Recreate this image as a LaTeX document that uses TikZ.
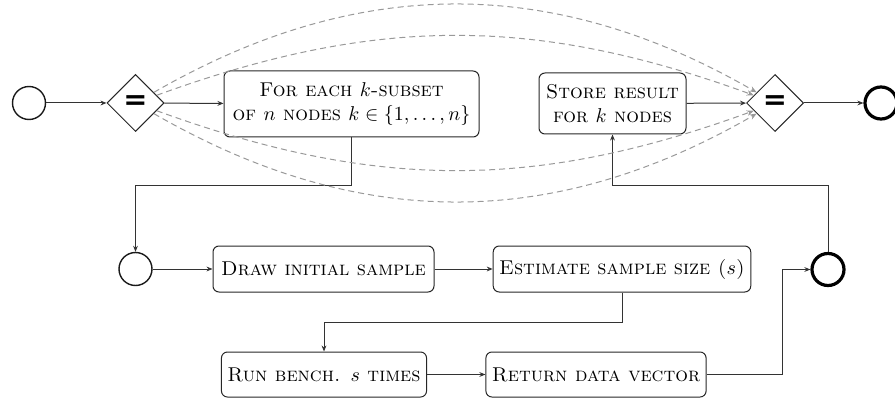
\documentclass[tikz,border=0pt]{standalone}
\usepackage{fontspec}
\newfontfamily\gatefont{DejaVu Sans}
\usetikzlibrary{shapes.geometric,arrows.meta}
\tikzset{
  px/.style={x=0.5pt,y=-0.5pt},
  task/.style={draw=black!85,line width=0.5pt,rounded corners=3pt,align=center,
    minimum height=23pt,inner xsep=3pt,font=\scshape},
  gate/.style={draw=black!85,line width=0.5pt,diamond,minimum width=28.5pt,minimum height=28.5pt,
    inner sep=0pt,font=\gatefont\bfseries\Large},
  ev/.style={draw=black!90,circle,line width=0.7pt,minimum size=16.5pt,inner sep=0pt},
  evthick/.style={draw=black,circle,line width=1.6pt,minimum size=16pt,inner sep=0pt},
  conn/.style={draw=black!80,line width=0.5pt,-{Stealth[length=3pt,width=2.4pt]}},
  par/.style={draw=black!40,line width=0.5pt,dash pattern=on 3pt off 2pt,
    -{Stealth[length=3.5pt,width=2.8pt]}},
}
\begin{document}
\begin{tikzpicture}[px]
\useasboundingbox (0,0) rectangle (895,401);
% top row
\node[ev] (s) at (29,103) {};
\node[gate] (d1) at (135.5,103) {=};
\node[task,minimum width=127.5pt,minimum height=33pt] (b1) at (351.5,104)
  {For each $k$-subset\\ of $n$ nodes $k\in\{1,\dots,n\}$};
\node[task,minimum width=73.5pt,minimum height=30.5pt] (st) at (612.5,103.5)
  {Store result\\ for $k$ nodes};
\node[gate] (d2) at (775,103) {=};
\node[evthick] (e) at (881,103) {};
% middle row
\node[ev] (c2) at (135.5,269) {};
\node[task,minimum width=110.5pt] (dr) at (323.5,269) {Draw initial sample};
\node[task,minimum width=128pt] (es) at (622,269) {Estimate sample size ($s$)};
\node[evthick] (c3) at (828,269.5) {};
% bottom row
\node[task,minimum width=102pt,minimum height=22.5pt] (rb) at (324,374.5) {Run bench. $s$ times};
\node[task,minimum width=109pt,minimum height=22.5pt] (rd) at (596,374.5) {Return data vector};
% bend coordinates
\coordinate (j1) at (135.5,186);
\coordinate (j2) at (324,322);
\coordinate (j3) at (782,269.5);
\coordinate (j4) at (612.5,186);
% connectors
\draw[conn] (s) -- (d1);
\draw[conn] (d1) -- (b1);
\draw[conn] (st) -- (d2);
\draw[conn] (d2) -- (e);
\draw[conn] (b1.south) |- (j1) -- (c2.north);
\draw[conn] (c2) -- (dr);
\draw[conn] (dr) -- (es);
\draw[conn] (es.south) |- (j2) -- (rb.north);
\draw[conn] (rb) -- (rd);
\draw[conn] (rd.east) -| (j3) -- (c3.west);
\draw[conn] (c3.north) |- (j4) -- (st.south);
% parallel dashed flows
\draw[par] (d1) to[bend left=30] (d2);
\draw[par] (d1) to[bend left=20] (d2);
\draw[par] (d1) to[bend right=20] (d2);
\draw[par] (d1) to[bend right=30] (d2);
\end{tikzpicture}
\end{document}
